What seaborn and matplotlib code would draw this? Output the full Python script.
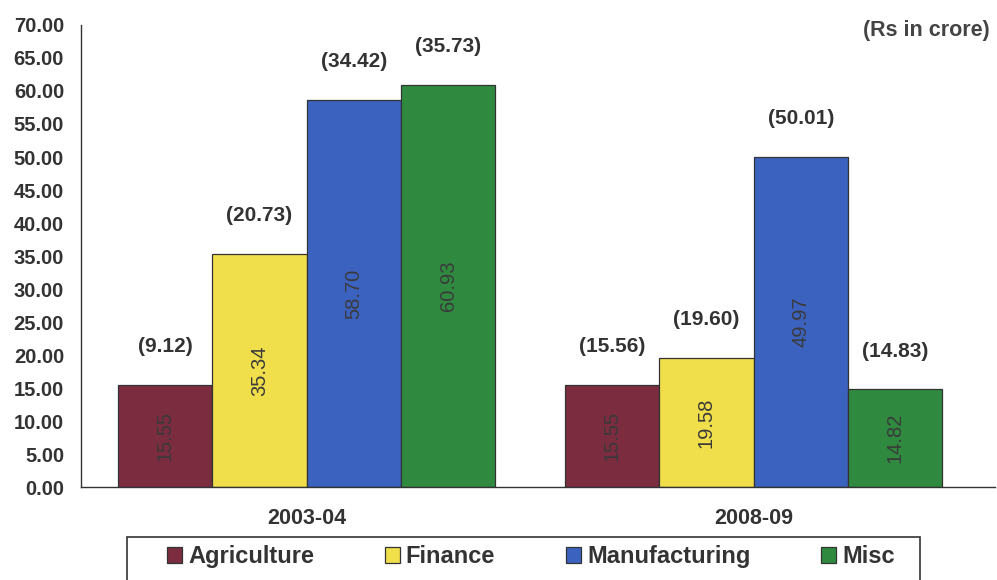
import pandas as pd
import matplotlib.pyplot as plt
import seaborn as sns
from matplotlib.patches import Rectangle

years = ['2003-04', '2008-09']
sectors = ['Agriculture', 'Finance', 'Manufacturing', 'Misc']
values = {
    'Agriculture': [15.55, 15.55],
    'Finance': [35.34, 19.58],
    'Manufacturing': [58.70, 49.97],
    'Misc': [60.93, 14.82],
}
bracket = {
    'Agriculture': ['(9.12)', '(15.56)'],
    'Finance': ['(20.73)', '(19.60)'],
    'Manufacturing': ['(34.42)', '(50.01)'],
    'Misc': ['(35.73)', '(14.83)'],
}
colors = ['#7b2c3f', '#f0df4a', '#3c62bf', '#2f8a3f']

rows = []
for s in sectors:
    for i, y in enumerate(years):
        rows.append({'Year': y, 'Sector': s, 'Value': values[s][i]})
df = pd.DataFrame(rows)

sns.set_style('white')
plt.rcParams['font.family'] = ['Liberation Sans', 'DejaVu Sans']
txt = '#333333'

fig = plt.figure(figsize=(9.97, 5.8), dpi=100)
ax = fig.add_axes([0.081, 0.160, 0.917, 0.797])

sns.barplot(data=df, x='Year', y='Value', hue='Sector', hue_order=sectors,
            palette=colors, width=0.844, edgecolor='#333333', linewidth=0.9,
            saturation=1, ax=ax, legend=True)

# labels inside and above bars
for s, cont in zip(sectors, ax.containers):
    for i, bar in enumerate(cont):
        h = bar.get_height()
        cx = bar.get_x() + bar.get_width() / 2
        ax.text(cx, h / 2, f'{values[s][i]:.2f}', rotation=90, ha='center', va='center',
                fontsize=14.5, color='#3a3a3a')
        ax.text(cx, h + 5.8, bracket[s][i], ha='center', va='center',
                fontsize=15, fontweight='bold', color=txt)

ax.set_ylim(0, 70)
ax.set_xlim(-0.505, 1.54)
ax.set_yticks(range(0, 71, 5))
ax.set_yticklabels([f'{v:.2f}' for v in range(0, 71, 5)], fontsize=14.5,
                   fontweight='bold', color=txt)
ax.set_xticks([0, 1])
ax.set_xticklabels(years, fontsize=15.5, fontweight='bold', color=txt)
ax.tick_params(axis='x', length=0, pad=15)
ax.set_xticks([0.5], minor=True)
ax.tick_params(axis='x', which='minor', length=6, direction='out', color='#333333')
ax.tick_params(axis='y', length=6, direction='out', color='#333333', pad=6)
ax.set_xlabel('')
ax.set_ylabel('')
for side in ['top', 'right']:
    ax.spines[side].set_visible(False)
for side in ['left', 'bottom']:
    ax.spines[side].set_color('#333333')
    ax.spines[side].set_linewidth(1)

fig.text(0.993, 0.965, '(Rs in crore)', ha='right', va='top',
         fontsize=15.5, fontweight='bold', color='#444444')

# legend box drawn separately so it can run off the bottom edge
fig.patches.append(Rectangle((127 / 997, -0.05), (920 - 127) / 997, 0.05 + (580 - 537) / 580,
                             transform=fig.transFigure, fill=False,
                             edgecolor='#333333', linewidth=1.2))
handles, labels = ax.get_legend_handles_labels()
ax.legend(handles, labels, loc='upper left', bbox_to_anchor=(167 / 997, (580 - 545) / 580),
          bbox_transform=fig.transFigure,
          ncol=4, frameon=False, borderpad=0, borderaxespad=0,
          handlelength=0.64, handleheight=0.64, handletextpad=0.25, columnspacing=3.0,
          prop={'weight': 'bold', 'size': 17})
for t in ax.get_legend().get_texts():
    t.set_color(txt)

fig.savefig('out.png', dpi=100)
